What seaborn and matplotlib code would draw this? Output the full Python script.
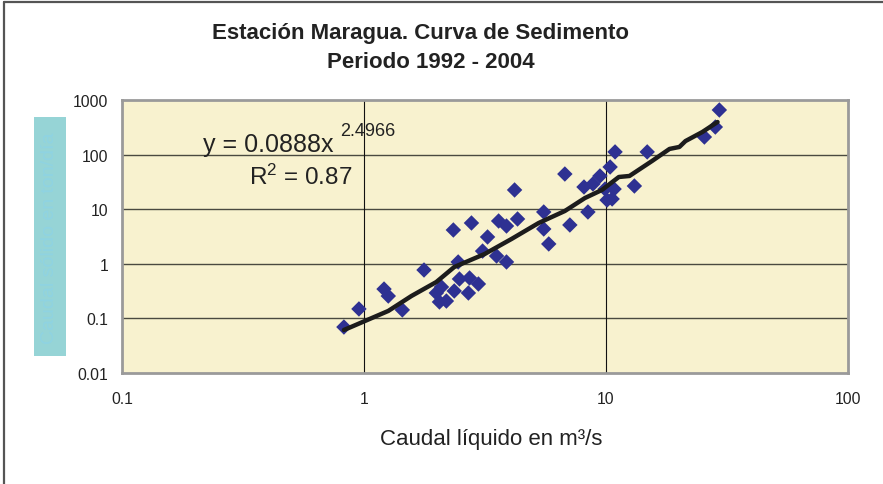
import matplotlib
matplotlib.use("Agg")
import matplotlib.pyplot as plt
import seaborn as sns
import pandas as pd
from matplotlib.lines import Line2D
from matplotlib.patches import Rectangle

# ---- data ----
caudal_liquido = [0.826, 0.953, 1.21, 1.26, 1.44, 1.77, 1.99, 2.05, 2.09, 2.19,
                  2.36, 2.48, 2.70, 2.73, 2.97, 2.34, 2.78, 3.24, 3.09, 2.45,
                  3.60, 3.88, 4.31, 4.19, 3.53, 3.88, 5.53, 5.53, 5.80, 6.76,
                  7.09, 8.11, 8.42, 8.83, 9.44, 10.4, 10.9, 9.91, 10.8, 10.1,
                  10.6, 13.1, 14.8, 25.5, 28.3, 29.4]
caudal_solido = [0.0695, 0.149, 0.345, 0.257, 0.143, 0.77, 0.292, 0.20, 0.376, 0.208,
                 0.318, 0.527, 0.292, 0.55, 0.427, 4.16, 5.59, 3.10, 1.71, 1.08,
                 6.08, 4.92, 6.62, 22.5, 1.39, 1.08, 8.89, 4.34, 2.31, 44.1,
                 5.14, 25.5, 8.89, 29.0, 40.6, 59.3, 112, 23.4, 23.4, 14.7,
                 15.4, 26.6, 112, 210, 320, 656]

tend_x = [0.826, 0.883, 1.26, 1.57, 1.99, 2.36, 3.15, 4.07, 5.27, 6.76,
          8.18, 9.62, 11.3, 12.5, 15.5, 18.3, 20.1, 21.3, 25.0, 28.9]
tend_y = [0.0614, 0.0695, 0.137, 0.257, 0.464, 0.873, 1.51, 2.85, 5.59, 9.27,
          16.0, 22.5, 38.9, 40.6, 76.4, 127, 138, 177, 259, 395]

x_ticks = [0.1, 1, 10, 100]
x_tick_labels = ["0.1", "1", "10", "100"]
y_ticks = [0.01, 0.1, 1, 10, 100, 1000]
y_tick_labels = ["0.01", "0.1", "1", "10", "100", "1000"]

titulo = "Estación Maragua. Curva de Sedimento"
subtitulo = "Periodo 1992 - 2004"
x_label = "Caudal líquido en m³/s"
y_label = "Caudal sólido en ton/día"
ecuacion = "y = 0.0888x"
exponente = "2.4966"
r2_texto = "R$^{2}$ = 0.87"

df = pd.DataFrame({"Q": caudal_liquido, "Qs": caudal_solido})
df_t = pd.DataFrame({"Q": tend_x, "Qs": tend_y})

sns.set_style("white")
plt.rcParams["font.family"] = ["Liberation Sans", "DejaVu Sans"]
plt.rcParams["mathtext.fontset"] = "custom"
plt.rcParams["mathtext.rm"] = "Liberation Sans"
plt.rcParams["mathtext.it"] = "Liberation Sans"

W, H = 883, 485
fig = plt.figure(figsize=(W / 100, H / 100), dpi=100)
fig.patch.set_facecolor("white")

L, R, T, B = 122, 848, 101, 374
ax = fig.add_axes([L / W, 1 - B / H, (R - L) / W, (B - T) / H])
ax.set_facecolor("#F8F2CF")

ax.set_xscale("log")
ax.set_yscale("log")
ax.set_xlim(0.1, 100)
ax.set_ylim(0.01, 1000)

for yv in y_ticks[1:-1]:
    ax.axhline(yv, color="#4a4a40", lw=1.0, zorder=1)
for xv in x_ticks[1:-1]:
    ax.axvline(xv, color="#111111", lw=0.8, zorder=1)

sns.scatterplot(data=df, x="Q", y="Qs", marker="D", s=62, color="#2E3192",
                edgecolor="none", linewidth=0, ax=ax, zorder=3)
sns.lineplot(data=df_t, x="Q", y="Qs", sort=False, estimator=None,
             color="#1c1c1c", lw=3.2, ax=ax, zorder=4)

ax.set_xticks(x_ticks)
ax.set_xticklabels(x_tick_labels)
ax.set_yticks(y_ticks)
ax.set_yticklabels(y_tick_labels)
ax.minorticks_off()
ax.tick_params(axis="both", which="major", direction="out", length=5, width=0.8,
               color="#222222", labelsize=11.3, labelcolor="#222222")
ax.tick_params(axis="x", pad=8)
ax.tick_params(axis="y", pad=5)
ax.set_xlabel("")
ax.set_ylabel("")
for s in ax.spines.values():
    s.set_visible(True)
    s.set_color("#9a9a9a")
    s.set_linewidth(2.0)

# titles
fig.text(420 / W, 1 - 33 / H, titulo, ha="center", va="center",
         fontsize=16, fontweight="bold", color="#222222")
fig.text(431 / W, 1 - 62 / H, subtitulo, ha="center", va="center",
         fontsize=16, fontweight="bold", color="#222222")

# x label
fig.text(491 / W, 1 - 440 / H, x_label, ha="center", va="center",
         fontsize=16, color="#222222")

# hidden y label bar
fig.add_artist(Rectangle((34 / W, 1 - 357 / H), 32 / W, 239 / H,
                         transform=fig.transFigure, facecolor="#96D4D6",
                         edgecolor="none"))
fig.text(50 / W, 1 - 238 / H, y_label, rotation=90, ha="center", va="center",
         fontsize=14, color="#8fd3e2")

# equation
fig.text(203 / W, 1 - 145 / H, ecuacion, ha="left", va="center",
         fontsize=18, color="#222222")
fig.text(340 / W, 1 - 132 / H, exponente, ha="left", va="center",
         fontsize=13, color="#222222")
fig.text(249 / W, 1 - 177 / H, r2_texto, ha="left", va="center",
         fontsize=17.5, color="#222222")

# outer frame (left and top edges visible)
fig.add_artist(Line2D([4 / W, 4 / W], [0, 1 - 3 / H], transform=fig.transFigure,
                      color="#555555", lw=1.6))
fig.add_artist(Line2D([4 / W, 1], [1 - 3 / H, 1 - 3 / H], transform=fig.transFigure,
                      color="#555555", lw=1.6))

fig.savefig("out.png", dpi=100, facecolor="white")
